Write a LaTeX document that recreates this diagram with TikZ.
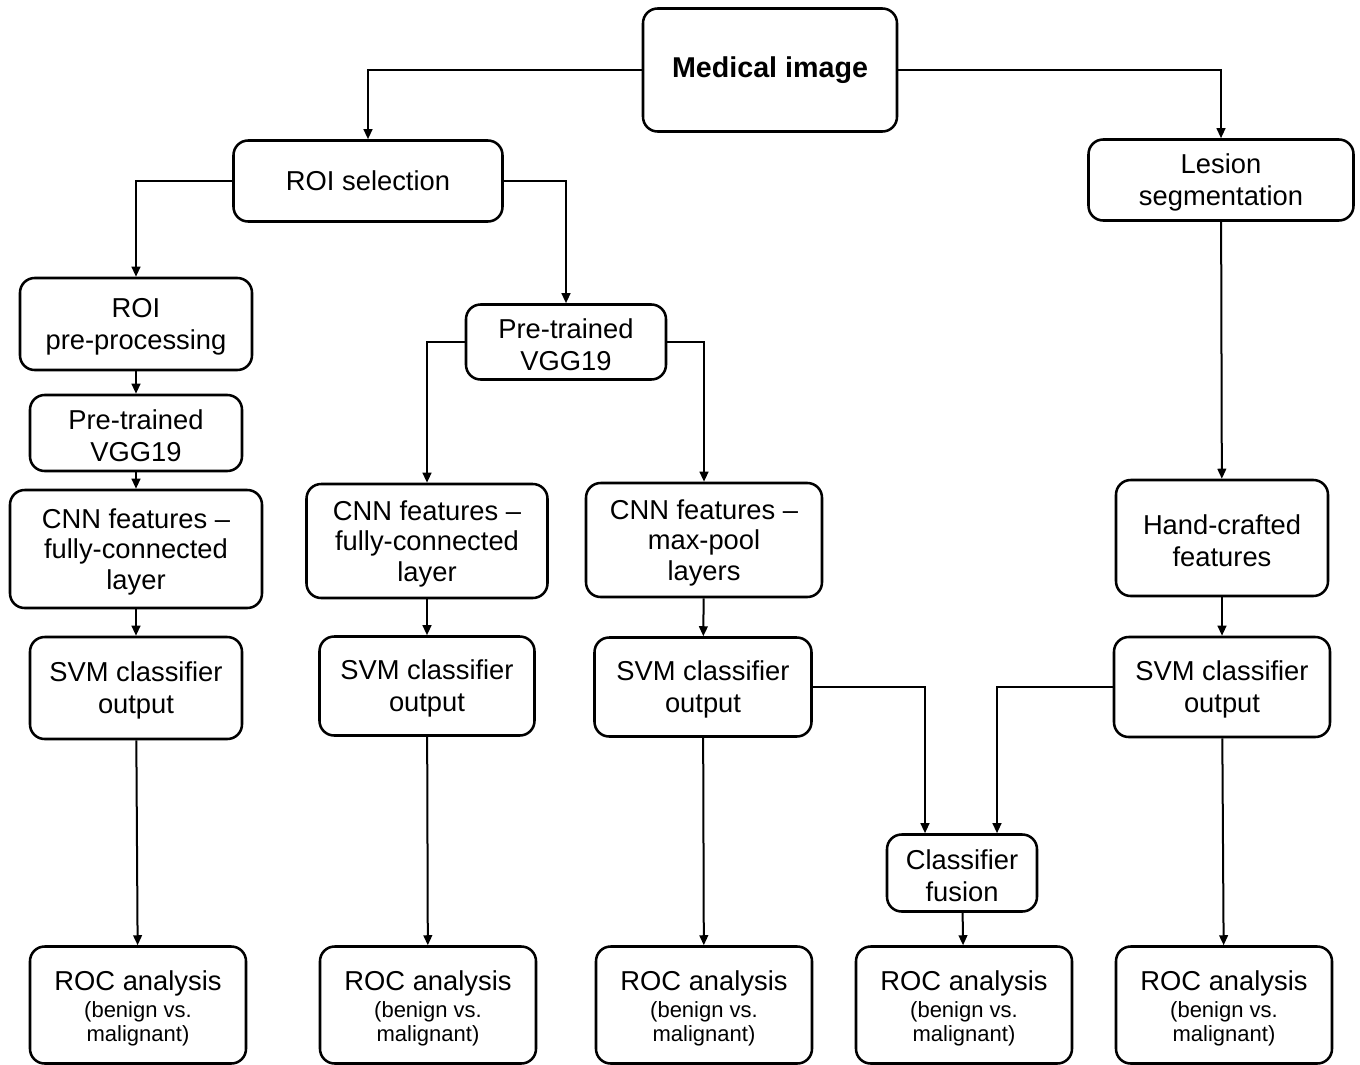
\documentclass[tikz,border=0pt]{standalone}
\usepackage{fontspec}
\setmainfont{Liberation Sans}
\usetikzlibrary{arrows.meta}
\begin{document}
\begin{tikzpicture}[x=0.75pt,y=-0.75pt,
  box/.style={draw,line width=1.9pt,rounded corners=11pt,align=center,inner sep=0pt,
    font=\fontsize{20.5}{24}\selectfont},
  conn/.style={line width=1.5pt,-{Triangle[length=7.5pt,width=6.5pt]}}]
\useasboundingbox (0,0) rectangle (1360,1064);
\newcommand{\bx}[6]{\node[box,minimum width=#4*0.75pt,minimum height=#5*0.75pt] (#1) at (#2,#3) {#6};}
\newcommand{\up}{\rule{0pt}{19pt}}
\newcommand{\roctext}{\rule{0pt}{20pt}ROC analysis\\[-3.75pt]{\fontsize{16.5}{18}\selectfont(benign vs.}\\[-6pt]{\fontsize{16.5}{18}\selectfont malignant)}}
\newcommand{\cnntext}[2]{\up CNN features --\\[-1pt]#1\\[-1pt]#2}
\bx{med}{770}{70}{254}{123}{\fontsize{21.5}{24}\selectfont\textbf{Medical image}}
\bx{roisel}{368}{181}{269}{81}{ROI selection}
\bx{lesion}{1221}{180}{265}{81}{\up Lesion\\segmentation}
\bx{roipre}{136}{324}{232}{92}{\up ROI\\pre-processing}
\bx{vggm}{566}{342}{200}{75}{\up Pre-trained\\VGG19}
\bx{vggl}{136}{433}{212}{76}{\up Pre-trained\\VGG19}
\bx{cnnl}{136}{549}{252}{118}{\cnntext{fully-connected}{layer}}
\bx{cnnm}{427}{541}{241}{114}{\cnntext{fully-connected}{layer}}
\bx{cnnp}{704}{540}{236}{114}{\cnntext{max-pool}{layers}}
\bx{hand}{1222}{538}{212}{116}{\up Hand-crafted\\features}
\bx{svml}{136}{688}{212}{102}{\up SVM classifier\\output}
\bx{svmm}{427}{686}{215}{99}{\up SVM classifier\\output}
\bx{svmp}{703}{687}{217}{99}{\up SVM classifier\\output}
\bx{svmr}{1222}{687}{216}{100}{\up SVM classifier\\output}
\bx{fus}{962}{873}{150}{77}{\up Classifier\\fusion}
\bx{roc1}{138}{1005}{216}{117}{\roctext}
\bx{roc2}{428}{1005}{216}{117}{\roctext}
\bx{roc3}{704}{1005}{216}{117}{\roctext}
\bx{roc4}{964}{1005}{216}{117}{\roctext}
\bx{roc5}{1224}{1005}{216}{117}{\roctext}
% connectors
\draw[conn] (med.west) -| (roisel.north);
\draw[conn] (med.east) -| (lesion.north);
\draw[conn] (roisel.west) -| (roipre.north);
\draw[conn] (roisel.east) -| (vggm.north);
\draw[conn] (roipre) -- (vggl);
\draw[conn] (vggl) -- (cnnl);
\draw[conn] (vggm.west) -| (cnnm.north);
\draw[conn] (vggm.east) -| (cnnp.north);
\draw[conn] (lesion) -- (hand);
\draw[conn] (cnnl) -- (svml);
\draw[conn] (cnnm) -- (svmm);
\draw[conn] (cnnp) -- (svmp);
\draw[conn] (hand) -- (svmr);
\draw[conn] (svml) -- (roc1);
\draw[conn] (svmm) -- (roc2);
\draw[conn] (svmp) -- (roc3);
\draw[conn] (svmr) -- (roc5);
\draw[conn] (fus) -- (roc4);
\draw[conn] (svmp.east) -| ([xshift=-37*0.75pt]fus.north);
\draw[conn] (svmr.west) -| ([xshift=35*0.75pt]fus.north);
\end{tikzpicture}
\end{document}
